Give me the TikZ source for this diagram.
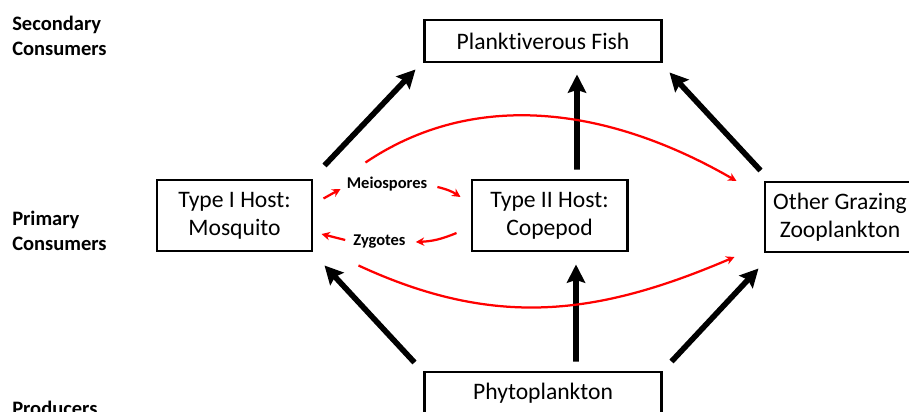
\documentclass[tikz,border=0pt]{standalone}
\usepackage{fontspec}
\setmainfont{Carlito}[Ligatures=NoCommon]
\usetikzlibrary{arrows.meta}

\begin{document}
\begin{tikzpicture}[x=0.025cm,y=-0.025cm,
    box/.style={draw,line width=2.1pt,inner sep=0pt,align=center,font=\fontsize{16.8}{19.9}\selectfont},
    level/.style={inner sep=0pt,align=left,font=\bfseries\fontsize{14.6}{17.8}\selectfont},
    flow/.style={line width=4pt,-{Stealth[length=13pt,width=13pt,inset=2pt]}},
    spore/.style={red,line width=1.6pt,-{Stealth[length=6pt,width=6pt]}},
    stage/.style={inner sep=0pt,font=\bfseries\fontsize{11.7}{14}\selectfont}]
  \useasboundingbox (0,0) rectangle (909,412);

  \node[level,anchor=west] (sec) at (12,36) {Secondary\\Consumers};
  \node[level,anchor=west] (prim) at (12,231) {Primary\\Consumers};
  \node[level,anchor=base west] (prod) at (12,415) {Producers};

  \node[box,minimum width=5.9cm,minimum height=1.05cm] (fish) at (543,41) {Planktiverous Fish};
  \node[box,minimum width=3.875cm,minimum height=1.775cm] (host1) at (234.5,215.5) {Type I Host:\\Mosquito};
  \node[box,minimum width=3.875cm,minimum height=1.775cm] (host2) at (549.5,215.5) {Type II Host:\\Copepod};
  \node[box,minimum width=3.75cm,minimum height=1.75cm] (other) at (840,217) {Other Grazing\\Zooplankton};
  \node[box,minimum width=5.9cm,minimum height=1.05cm] (phyto) at (543,393) {Phytoplankton};

  \node[stage] (meio) at (387,184) {Meiospores};
  \node[stage] (zyg) at (379.5,242) {Zygotes};

  \draw[flow] ([shift={(11,-13)}]host1.north east) -- ([shift={(-8,6)}]fish.south west);
  \draw[flow] ([shift={(27.5,-9)}]host2.north) -- ([shift={(34,11)}]fish.south);
  \draw[flow] ([shift={(-3,-10)}]other.north west) -- ([shift={(7,9)}]fish.south east);
  \draw[flow] ([shift={(-9,-8)}]phyto.north west) -- ([shift={(11,13)}]host1.south east);
  \draw[flow] ([shift={(33,-9)}]phyto.north) -- ([shift={(26.5,12)}]host2.south);
  \draw[flow] ([shift={(9,-9)}]phyto.north east) -- ([shift={(-5,15)}]other.south west);

  \draw[spore] ([shift={(52,-16)}]host1.north east) .. controls +(108,-73) and +(-130,-75) .. ([shift={(-27,-36)}]other.west);
  \draw[spore] ([shift={(45,13)}]host1.south east) .. controls +(136,63) and +(-138,59) .. ([shift={(-29,40)}]other.west);

  \draw[spore] ([shift={(10,-17)}]host1.east) -- ([shift={(-6,5)}]meio.west);
  \draw[spore] ([shift={(10,3)}]meio.east) to[bend left=10] ([shift={(-10,-18.5)}]host2.west);
  \draw[spore] ([shift={(-14,17.5)}]host2.west) to[bend left=10] ([shift={(10,0)}]zyg.east);
  \draw[spore] ([shift={(-8,-2)}]zyg.west) -- ([shift={(8,18.5)}]host1.east);
\end{tikzpicture}
\end{document}
